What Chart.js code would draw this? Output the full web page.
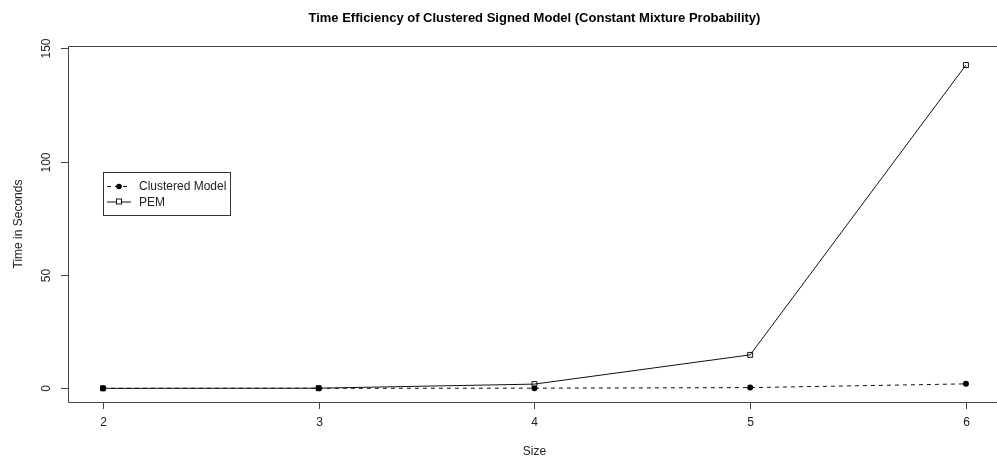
<!DOCTYPE html>
<html>
<head>
<meta charset="utf-8">
<script src="https://cdn.jsdelivr.net/npm/chart.js@4"></script>
<style>
  html, body { margin: 0; padding: 0; background: #fff; }
  #wrap { width: 997px; height: 462px; }
</style>
</head>
<body>
<div id="wrap"><canvas id="myChart" width="997" height="462"></canvas></div>
<script>
// DATA
const sizes = [2, 3, 4, 5, 6];
const clusteredTimes = [0.02, 0.05, 0.1, 0.35, 2.0];
const pemTimes = [0.03, 0.1, 1.9, 14.8, 142.7];
const xTicks = [2, 3, 4, 5, 6];
const yTicks = [0, 50, 100, 150];

const titleText = 'Time Efficiency of Clustered Signed Model (Constant Mixture Probability)';
const xTitle = 'Size';
const yTitle = 'Time in Seconds';

const FONT = '"Liberation Sans", Arial, sans-serif';
const INK = '#222';
const AXIS = '#444';

// draws the R style box, ticks, labels, titles and legend
const rAxes = {
  id: 'rAxes',
  afterDraw(chart) {
    const ctx = chart.ctx;
    const a = chart.chartArea;
    const xs = chart.scales.x;
    const ys = chart.scales.y;
    ctx.save();

    // box (right side falls off the canvas)
    ctx.strokeStyle = AXIS;
    ctx.lineWidth = 1;
    ctx.beginPath();
    ctx.moveTo(a.right + 5, Math.round(a.top) + 0.5);
    ctx.lineTo(Math.round(a.left) + 0.5, Math.round(a.top) + 0.5);
    ctx.lineTo(Math.round(a.left) + 0.5, Math.round(a.bottom) + 0.5);
    ctx.lineTo(a.right + 5, Math.round(a.bottom) + 0.5);
    ctx.stroke();

    // x ticks
    ctx.fillStyle = INK;
    ctx.font = '12px ' + FONT;
    ctx.textAlign = 'center';
    ctx.textBaseline = 'middle';
    xTicks.forEach(v => {
      const px = Math.round(xs.getPixelForValue(v)) + 0.5;
      ctx.beginPath();
      ctx.moveTo(px, a.bottom);
      ctx.lineTo(px, a.bottom + 7);
      ctx.stroke();
      ctx.fillText(String(v), px, a.bottom + 21);
    });

    // y ticks, labels rotated like R
    yTicks.forEach(v => {
      const py = Math.round(ys.getPixelForValue(v)) + 0.5;
      ctx.beginPath();
      ctx.moveTo(a.left - 7, py);
      ctx.lineTo(a.left, py);
      ctx.stroke();
      ctx.save();
      ctx.translate(a.left - 21, py);
      ctx.rotate(-Math.PI / 2);
      ctx.fillText(String(v), 0, 0);
      ctx.restore();
    });

    // axis titles
    const midX = xs.getPixelForValue(4);
    ctx.fillText(xTitle, midX, a.bottom + 50);
    ctx.save();
    ctx.translate(19, (a.top + a.bottom) / 2);
    ctx.rotate(-Math.PI / 2);
    ctx.fillText(yTitle, 0, 0);
    ctx.restore();

    // main title
    ctx.font = 'bold 13px ' + FONT;
    ctx.fillStyle = '#000';
    ctx.fillText(titleText, midX, 18);

    // legend box
    const lx = 103, ly = 172, lw = 127, lh = 43;
    ctx.strokeStyle = '#333';
    ctx.strokeRect(lx + 0.5, ly + 0.5, lw, lh);
    ctx.font = '12px ' + FONT;
    ctx.textAlign = 'left';
    ctx.fillStyle = INK;
    chart.data.datasets.forEach((ds, i) => {
      const ry = ly + 14 + i * 15.5;
      ctx.strokeStyle = '#111';
      ctx.setLineDash(ds.borderDash || []);
      ctx.beginPath();
      ctx.moveTo(lx + 4, ry + 0.5);
      ctx.lineTo(lx + 28, ry + 0.5);
      ctx.stroke();
      ctx.setLineDash([]);
      if (ds.pointStyle === 'circle') {
        ctx.fillStyle = '#000';
        ctx.beginPath();
        ctx.arc(lx + 16, ry + 0.5, 2.8, 0, Math.PI * 2);
        ctx.fill();
      } else {
        ctx.fillStyle = '#fff';
        ctx.fillRect(lx + 13, ry - 2.5, 6, 6);
        ctx.strokeRect(lx + 13.5, ry - 2.5, 5, 5);
      }
      ctx.fillStyle = INK;
      ctx.fillText(ds.label, lx + 36, ry + 1);
    });

    ctx.restore();
  }
};

const data = {
  datasets: [
    {
      label: 'Clustered Model',
      data: sizes.map((s, i) => ({ x: s, y: clusteredTimes[i] })),
      borderColor: '#111',
      backgroundColor: '#000',
      borderWidth: 1,
      borderDash: [4, 4],
      pointStyle: 'circle',
      pointRadius: 3,
      pointBorderWidth: 0,
      pointBackgroundColor: '#000',
      tension: 0
    },
    {
      label: 'PEM',
      data: sizes.map((s, i) => ({ x: s, y: pemTimes[i] })),
      borderColor: '#111',
      backgroundColor: '#fff',
      borderWidth: 1,
      pointStyle: 'rect',
      pointRadius: 3.5,
      pointBorderWidth: 1,
      pointBorderColor: '#111',
      pointBackgroundColor: 'rgba(255,255,255,0)',
      tension: 0
    }
  ]
};

const config = {
  type: 'line',
  data: data,
  options: {
    responsive: false,
    animation: false,
    events: [],
    layout: { autoPadding: false, padding: { left: 68, top: 46, right: 0, bottom: 60 } },
    scales: {
      x: { type: 'linear', display: false, min: 1.838, max: 6.144 },
      y: { type: 'linear', display: false, min: -6, max: 151.1 }
    },
    plugins: {
      legend: { display: false },
      title: { display: false },
      tooltip: { enabled: false }
    }
  },
  plugins: [rAxes]
};

const myChart = new Chart(document.getElementById('myChart'), config);
</script>
</body>
</html>
